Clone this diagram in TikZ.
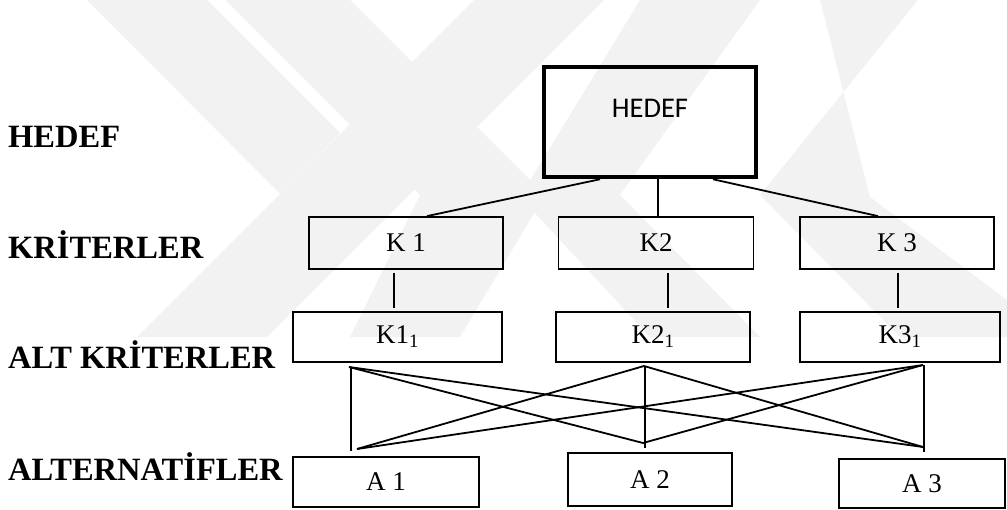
\documentclass[tikz,border=0pt]{standalone}
\usepackage{fontspec}
\setmainfont{Liberation Serif}
\newfontfamily\calibri{Carlito}
\begin{document}
\begin{tikzpicture}[x=1pt,y=-1pt,
  box/.style={draw,line width=1.8pt,inner sep=0pt,font=\fontsize{27}{30}\selectfont},
  link/.style={line width=1.8pt},
  thin/.style={line width=1.4pt},
  lvl/.style={anchor=base west,inner sep=0pt,font=\fontsize{32.5}{36}\selectfont\bfseries},
  wm/.style={fill=black!5,draw=none}]
\useasboundingbox (0,0) rectangle (1007,509);
% watermark (approximate)
\fill[wm] (87,0) -- (207,0) -- (340,133) -- (280,194) -- cycle;
\fill[wm] (474,0) -- (604,0) -- (267,337) -- (137,337) -- cycle;
\fill[wm] (225,0) -- (350,0) -- (545,195) -- (460,337) -- (350,337) -- (420,195) -- cycle;
\fill[wm] (820,0) -- (918,0) -- (760,195) -- (900,337) -- (1007,337) -- (1007,300) -- (870,197) -- cycle;
\fill[wm] (640,0) -- (760,0) -- (620,195) -- (760,337) -- (650,337) -- (520,197) -- cycle;
% left level labels
\node[lvl] (l1) at (8,147) {HEDEF};
\node[lvl] (l2) at (8,258) {KR\.ITERLER};
\node[lvl] (l3) at (8,368) {ALT KR\.ITERLER};
\node[lvl] (l4) at (8,480) {ALTERNAT\.IFLER};
% goal
\node[draw,line width=4.5pt,inner sep=0pt,minimum width=212pt,minimum height=110pt,
      text height=19pt,text depth=29pt,font=\calibri\fontsize{28.5}{32}\selectfont]
      (hedef) at (650,122) {HEDEF};
% criteria
\node[box,minimum width=194pt,minimum height=52pt] (k1) at (406,243) {K 1};
\node[box,minimum width=195pt,minimum height=52pt] (k2) at (656,243) {K2};
\node[box,minimum width=194pt,minimum height=52pt] (k3) at (897,243) {K 3};
% sub-criteria
\node[box,minimum width=209pt,minimum height=50pt] (k11) at (397.5,337) {K1\textsubscript{1}};
\node[box,minimum width=194pt,minimum height=50pt] (k21) at (653,337) {K2\textsubscript{1}};
\node[box,minimum width=200pt,minimum height=50pt] (k31) at (900,337) {K3\textsubscript{1}};
% alternatives
\node[box,minimum width=186pt,minimum height=50pt] (a1) at (386,482) {A 1};
\node[box,minimum width=164pt,minimum height=53pt] (a2) at (650,479.5) {A 2};
\node[box,minimum width=166pt,minimum height=49pt] (a3) at (922,483.5) {A 3};
% goal to criteria
\draw[link] ([xshift=-50pt]hedef.south) -- ([xshift=21pt]k1.north);
\draw[thin] ([xshift=8pt]hedef.south) -- ([xshift=8pt]hedef.south |- k2.north);
\draw[link] ([xshift=63pt]hedef.south) -- ([xshift=-19pt]k3.north);
% criteria to sub-criteria
\draw[thin,shorten <=3pt,shorten >=3pt] ([xshift=-12pt]k1.south) -- ([xshift=-12pt]k1.south |- k11.north);
\draw[thin,shorten <=3pt,shorten >=3pt] ([xshift=12pt]k2.south) -- ([xshift=12pt]k2.south |- k21.north);
\draw[thin,shorten <=3pt,shorten >=3pt] ([xshift=1pt]k3.south) -- ([xshift=1pt]k3.south |- k31.north);
% sub-criteria to alternatives
\coordinate (t1) at (349,367);
\coordinate (t2) at (644,366);
\coordinate (t3) at (923,365);
\coordinate (b1) at (357,449);
\coordinate (b2) at (643,443);
\coordinate (b3) at (923,447);
\coordinate (v1) at (351,451);
\coordinate (v2) at (645,448);
\coordinate (v3) at (924,452);
\draw[thin] (t1 -| v1) -- (v1);
\draw[thin] (t2 -| v2) -- (v2);
\draw[thin] (t3 -| v3) -- (v3);
\draw[link] (t1) -- (b2);
\draw[link] (t1) -- (b3);
\draw[link] (t2) -- (b1);
\draw[link] (t2) -- (b3);
\draw[link] (t3) -- (b1);
\draw[link] (t3) -- (b2);
\end{tikzpicture}
\end{document}
